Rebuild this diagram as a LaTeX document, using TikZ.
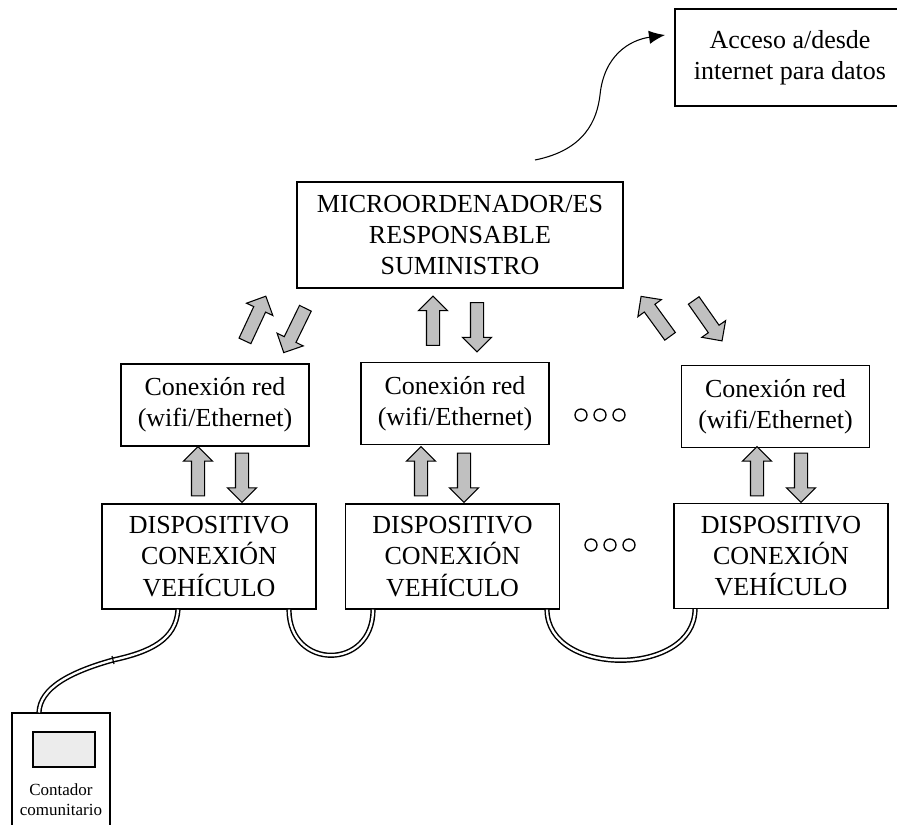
\documentclass[tikz,border=0pt]{standalone}
\usepackage{fontspec}
\setmainfont{Liberation Serif}
\usetikzlibrary{shapes.arrows,arrows.meta}

\definecolor{arrowgray}{RGB}{192,192,192}
\definecolor{screengray}{RGB}{236,236,236}

\tikzstyle{box} = [draw, line width=0.8pt, align=center, inner sep=0pt, font=\fontsize{19.5}{23.5}\selectfont]
\tikzstyle{redbox} = [box, minimum width=141pt, minimum height=61.5pt]
\tikzstyle{devbox} = [box, minimum width=160.5pt, minimum height=78.75pt]
\tikzstyle{fat} = [single arrow, draw, line width=0.8pt, fill=arrowgray, minimum height=37pt, inner sep=4.5pt, single arrow head extend=6pt]
\tikzstyle{cable} = [double, line width=1.1pt, double distance=1.7pt]
\tikzstyle{dot} = [circle, draw, line width=1pt, minimum size=9pt, inner sep=0pt]

\begin{document}
\begin{tikzpicture}[x=0.75pt, y=-0.75pt]
    \useasboundingbox (0,0) rectangle (897,825);

    \node[box, minimum width=172.5pt, minimum height=72.75pt] (A) at (790,57.5) {Acceso a/desde\\internet para datos};
    \node[box, minimum width=244.5pt, minimum height=79.5pt] (M) at (460,235) {MICROORDENADOR/ES\\RESPONSABLE\\SUMINISTRO};

    \node[redbox] (R1) at (215,405) {Conexión red\\(wifi/Ethernet)};
    \node[redbox] (R2) at (455,403.5) {Conexión red\\(wifi/Ethernet)};
    \node[redbox] (R3) at (775.5,406.5) {Conexión red\\(wifi/Ethernet)};

    \node[devbox] (D1) at (209,556.5) {DISPOSITIVO\\CONEXIÓN\\VEHÍCULO};
    \node[devbox] (D2) at (452.5,556.5) {DISPOSITIVO\\CONEXIÓN\\VEHÍCULO};
    \node[devbox] (D3) at (781,556) {DISPOSITIVO\\CONEXIÓN\\VEHÍCULO};

    % contador comunitario
    \node[draw, line width=0.8pt, minimum width=73.5pt, minimum height=91.5pt] (C) at (61,774) {};
    \node[draw, line width=1.3pt, fill=screengray, minimum width=46.5pt, minimum height=26.25pt] (S) at (64,749.5) {};
    \node[align=center, inner sep=0pt, font=\fontsize{12.75}{15}\selectfont] (T) at (61,800) {Contador\\comunitario};

    % flechas gruesas
    \node[fat, rotate=65] (U1) at (254,321.5) {};
    \node[fat, rotate=244] (W1) at (296,327.5) {};
    \node[fat, rotate=90] (U2) at (433,324) {};
    \node[fat, rotate=270] (W2) at (477,324) {};
    \node[fat, rotate=126] (U3) at (657.5,319) {};
    \node[fat, rotate=-55] (W3) at (706,318) {};
    \node[fat, rotate=90] (U4) at (198,474.5) {};
    \node[fat, rotate=270] (W4) at (242,474.5) {};
    \node[fat, rotate=90] (U5) at (421,474.5) {};
    \node[fat, rotate=270] (W5) at (464,474.5) {};
    \node[fat, rotate=90] (U6) at (757,474.5) {};
    \node[fat, rotate=270] (W6) at (801,474.5) {};

    % puntos
    \node[dot] (P1) at (581,415) {};
    \node[dot] (P2) at (600,415) {};
    \node[dot] (P3) at (619,415) {};
    \node[dot] (P4) at (591,545) {};
    \node[dot] (P5) at (610,545) {};
    \node[dot] (P6) at (629,545) {};

    % acceso a internet
    \coordinate (S0) at (535,160);
    \coordinate (S1) at (665,35);
    \draw[-{Latex[length=12pt,width=10pt]}, line width=0.8pt] (S0) .. controls (585,150) and (597,120) .. (600,95) .. controls (604,55) and (630,40) .. (S1);

    % cables
    \coordinate (J) at (113,660);
    \draw[cable] ([xshift=-23.25pt]D1.south) .. controls (176,640) and (150,652) .. (J) .. controls (70,672) and (40,688) .. ([xshift=-16.5pt]C.north);
    \draw[line width=0.9pt] (112,656) -- (114,664);
    \draw[cable] ([xshift=60pt]D1.south) .. controls +(0,61) and +(0,61) .. ([xshift=-59.6pt]D2.south);
    \draw[cable] ([xshift=70.9pt]D2.south) .. controls +(0,68) and +(0,68) .. ([xshift=-64.5pt]D3.south);
\end{tikzpicture}
\end{document}
